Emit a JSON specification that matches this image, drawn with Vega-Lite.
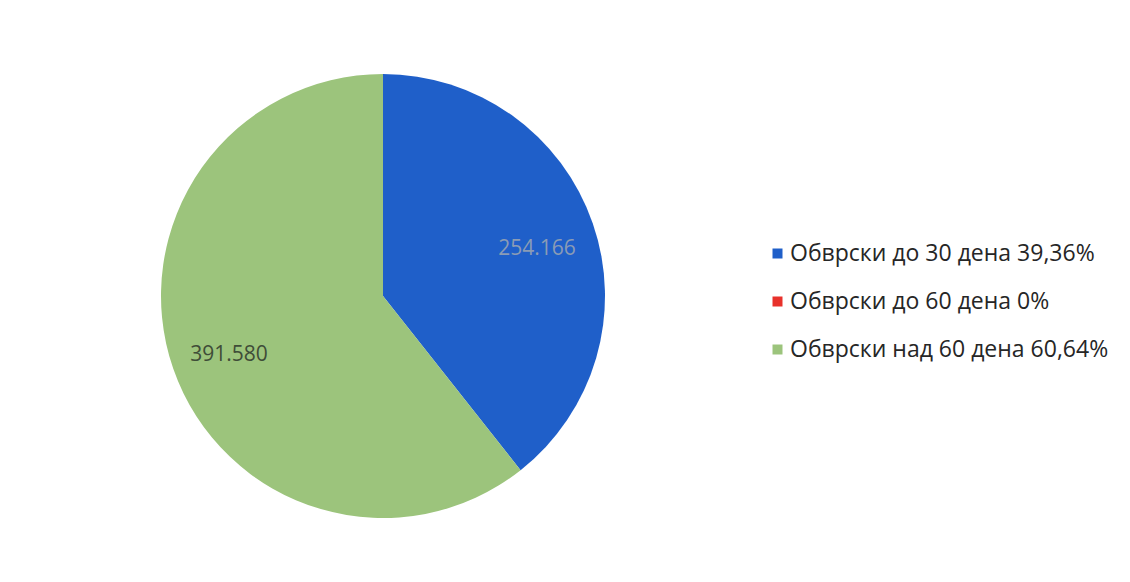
{
  "$schema": "https://vega.github.io/schema/vega-lite/v6.json",
  "width": 766,
  "height": 592,
  "padding": 0,
  "background": "white",
  "config": {"view": {"stroke": null}, "font": "Open Sans"},
  "data": {
    "values": [
      {"cat": "Обврски до 30 дена 39,36%", "value": 254166, "label": "254.166", "ord": 1},
      {"cat": "Обврски до 60 дена 0%", "value": 0, "label": "", "ord": 2},
      {"cat": "Обврски над 60 дена 60,64%", "value": 391580, "label": "391.580", "ord": 3}
    ]
  },
  "encoding": {
    "theta": {"field": "value", "type": "quantitative", "stack": true},
    "order": {"field": "ord", "type": "quantitative"}
  },
  "layer": [
    {
      "mark": {"type": "arc", "outerRadius": 222},
      "encoding": {
        "color": {
          "field": "cat",
          "type": "nominal",
          "sort": {"field": "ord"},
          "scale": {
            "domain": ["Обврски до 30 дена 39,36%", "Обврски до 60 дена 0%", "Обврски над 60 дена 60,64%"],
            "range": ["#1F5FC9", "#E8312B", "#9CC47C"]
          },
          "legend": {
            "title": null,
            "orient": "none",
            "legendX": 766,
            "legendY": 242,
            "symbolType": "square",
            "symbolSize": 100,
            "symbolStrokeWidth": 0,
            "labelFontSize": 23,
            "labelFont": "Open Sans",
            "labelColor": "#262626",
            "rowPadding": 24,
            "labelOffset": 1,
            "labelLimit": 400
          }
        }
      }
    },
    {
      "transform": [{"filter": "datum.value > 0"}],
      "mark": {"type": "text", "radius": 163, "dy": 6, "fontSize": 21, "font": "Open Sans"},
      "encoding": {
        "text": {"field": "label", "type": "nominal"},
        "color": {"condition": {"test": "datum.ord == 1", "value": "#8a9bb5"}, "value": "#3f4d38"}
      }
    }
  ]
}
